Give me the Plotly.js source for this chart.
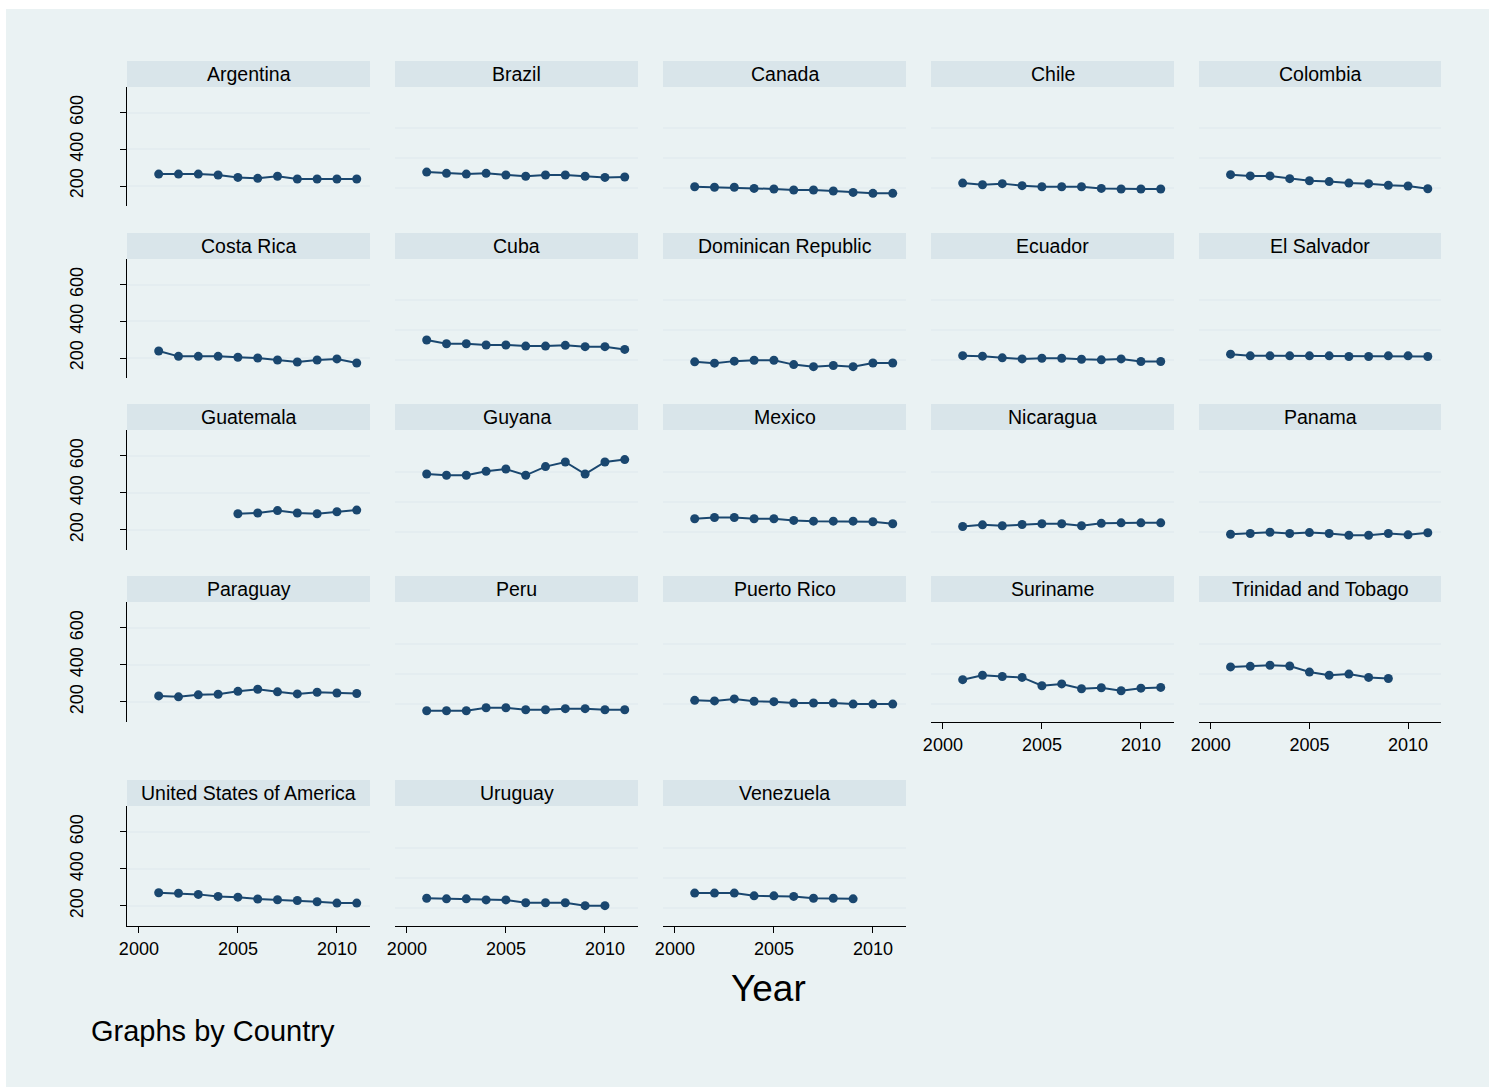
<!DOCTYPE html>
<html>
<head>
<meta charset="utf-8">
<script src="https://cdn.plot.ly/plotly-3.0.1.min.js"></script>
<style>html,body{margin:0;padding:0;background:#fff;}#chart{width:1489px;height:1087px;}</style>
</head>
<body>
<div id="chart"></div>
<script>
// ---- data ----
const years = [2001, 2002, 2003, 2004, 2005, 2006, 2007, 2008, 2009, 2010, 2011];
const countries = ["Argentina", "Brazil", "Canada", "Chile", "Colombia",
  "Costa Rica", "Cuba", "Dominican Republic", "Ecuador", "El Salvador",
  "Guatemala", "Guyana", "Mexico", "Nicaragua", "Panama",
  "Paraguay", "Peru", "Puerto Rico", "Suriname", "Trinidad and Tobago",
  "United States of America", "Uruguay", "Venezuela"];
const argentina = [265, 265, 265, 260, 247, 242, 253, 238, 238, 238, 238];
const brazil = [276, 269, 265, 269, 260, 253, 260, 260, 253, 247, 249];
const canada = [196, 193, 193, 187, 184, 178, 178, 173, 165, 160, 160];
const chile = [216, 207, 213, 202, 196, 196, 196, 187, 184, 184, 184];
const colombia = [262, 255, 255, 240, 229, 224, 216, 213, 204, 200, 185];
const costaRica = [238, 209, 209, 209, 204, 200, 189, 178, 189, 195, 173];
const cuba = [298, 278, 278, 271, 271, 265, 265, 269, 262, 262, 247];
const dominicanRepublic = [179, 172, 183, 188, 188, 164, 153, 159, 153, 173, 173];
const ecuador = [213, 210, 201, 195, 199, 199, 193, 190, 195, 181, 181];
const elSalvador = [221, 212, 212, 212, 212, 212, 208, 208, 212, 212, 208];
const guatemala = [null, null, null, null, 287, 291, 304, 291, 287, 298, 307];
const guyana = [502, 495, 495, 517, 529, 495, 542, 567, 502, 567, 580];
const mexico = [260, 267, 267, 260, 260, 251, 247, 247, 247, 244, 233];
const nicaragua = [218, 227, 222, 229, 233, 233, 222, 235, 238, 238, 238];
const panama = [176, 180, 187, 180, 185, 180, 171, 171, 180, 173, 184];
const paraguay = [232, 227, 238, 241, 257, 268, 254, 243, 252, 248, 245];
const peru = [152, 152, 152, 168, 168, 157, 157, 163, 163, 157, 157];
const puertoRico = [208, 205, 216, 203, 201, 194, 194, 194, 188, 188, 188];
const suriname = [320, 344, 337, 332, 287, 297, 271, 276, 260, 274, 278];
const trinidadTobago = [389, 392, 398, 394, 361, 344, 350, 332, 326, null, null];
const usa = [271, 268, 262, 251, 247, 237, 233, 229, 222, 215, 215];
const uruguay = [241, 238, 238, 232, 232, 217, 217, 217, 201, 201, null];
const venezuela = [269, 269, 269, 254, 254, 251, 241, 241, 238, null, null];
const series = [argentina, brazil, canada, chile, colombia, costaRica, cuba,
  dominicanRepublic, ecuador, elSalvador, guatemala, guyana, mexico, nicaragua,
  panama, paraguay, peru, puertoRico, suriname, trinidadTobago, usa, uruguay, venezuela];
const yTicksFirstCol = [200, 400, 600];
const yGridOtherCols = [188, 351, 515];
const xTicks = [2000, 2005, 2010];
const xTickText = ["2000", "2005", "2010"];

// ---- layout geometry (pixels) ----
const W = 1489, H = 1087;
const colPx = [[127, 370], [395, 638], [663, 906], [931, 1174], [1199, 1441]];
const rowPx = [[87, 206], [259, 378], [430, 550], [602, 722], [806, 926]];
const stripH = 26;
const bottomIdx = [18, 19, 20, 21, 22];

const FONT = "Liberation Sans, Arial, Helvetica, sans-serif";
const navy = "#1a476f";
const bg = "#eaf2f3";
const strip = "#d9e5ea";
const grid = "#e4edf0";

const traces = [];
const layout = {
  width: W, height: H,
  margin: {l: 0, r: 0, t: 0, b: 0},
  paper_bgcolor: "#ffffff",
  plot_bgcolor: "#ffffff",
  showlegend: false,
  font: {family: FONT, color: "#000"},
  shapes: [{type: "rect", xref: "paper", yref: "paper", x0: 6 / W, x1: 1, y0: 0, y1: 1 - 9 / H,
            fillcolor: bg, line: {width: 0}, layer: "below"}],
  annotations: []
};

countries.forEach((name, i) => {
  const r = Math.floor(i / 5), c = i % 5;
  const n = i + 1;
  const xa = "xaxis" + (n === 1 ? "" : n), ya = "yaxis" + (n === 1 ? "" : n);
  const xd = [colPx[c][0] / W, colPx[c][1] / W];
  const yd = [1 - rowPx[r][1] / H, 1 - rowPx[r][0] / H];
  traces.push({
    type: "scatter", mode: "lines+markers",
    x: years, y: series[i],
    xaxis: "x" + (n === 1 ? "" : n), yaxis: "y" + (n === 1 ? "" : n),
    line: {color: navy, width: 2},
    marker: {color: navy, size: 9},
    connectgaps: false, hoverinfo: "x+y"
  });
  const isBottom = bottomIdx.includes(i);
  layout[xa] = {
    domain: xd, anchor: "y" + (n === 1 ? "" : n),
    range: [1999.4, 2011.67], showgrid: false, zeroline: false,
    showline: isBottom, linecolor: "#000", linewidth: 1,
    ticks: isBottom ? "outside" : "", ticklen: 6, tickcolor: "#000",
    tickvals: xTicks, ticktext: xTickText, showticklabels: isBottom,
    tickfont: {size: 18, family: FONT, color: "#000"}
  };
  const first = c === 0;
  layout[ya] = {
    domain: yd, anchor: "x" + (n === 1 ? "" : n),
    range: [91, 740], zeroline: false,
    showgrid: true, gridcolor: grid, gridwidth: 2,
    tickvals: first ? yTicksFirstCol : yGridOtherCols,
    showticklabels: first, tickangle: -90,
    showline: first, linecolor: "#000", linewidth: 1,
    ticks: first ? "outside" : "", ticklen: 6, tickcolor: "#000",
    ticklabelstandoff: 30,
    tickfont: {size: 18, family: FONT, color: "#000"}
  };
  // strip header
  layout.shapes.push({type: "rect", xref: "paper", yref: "paper",
    x0: xd[0], x1: xd[1], y0: yd[1], y1: yd[1] + stripH / H,
    fillcolor: strip, line: {width: 0}, layer: "below"});
  layout.annotations.push({xref: "paper", yref: "paper",
    x: (xd[0] + xd[1]) / 2, y: yd[1] + stripH / 2 / H, text: name, showarrow: false,
    xanchor: "center", yanchor: "middle", font: {size: 19.5, family: FONT, color: "#000"}});
});

layout.annotations.push({xref: "paper", yref: "paper", x: 768 / W, y: 1 - 988 / H,
  text: "Year", showarrow: false, xanchor: "center", yanchor: "middle",
  font: {size: 37, family: FONT, color: "#000"}});
layout.annotations.push({xref: "paper", yref: "paper", x: 89 / W, y: 1 - 1031 / H,
  text: "Graphs by Country", showarrow: false, xanchor: "left", yanchor: "middle",
  font: {size: 29, family: FONT, color: "#000"}});

Plotly.newPlot("chart", traces, layout, {displayModeBar: false, staticPlot: true});
</script>
</body>
</html>
